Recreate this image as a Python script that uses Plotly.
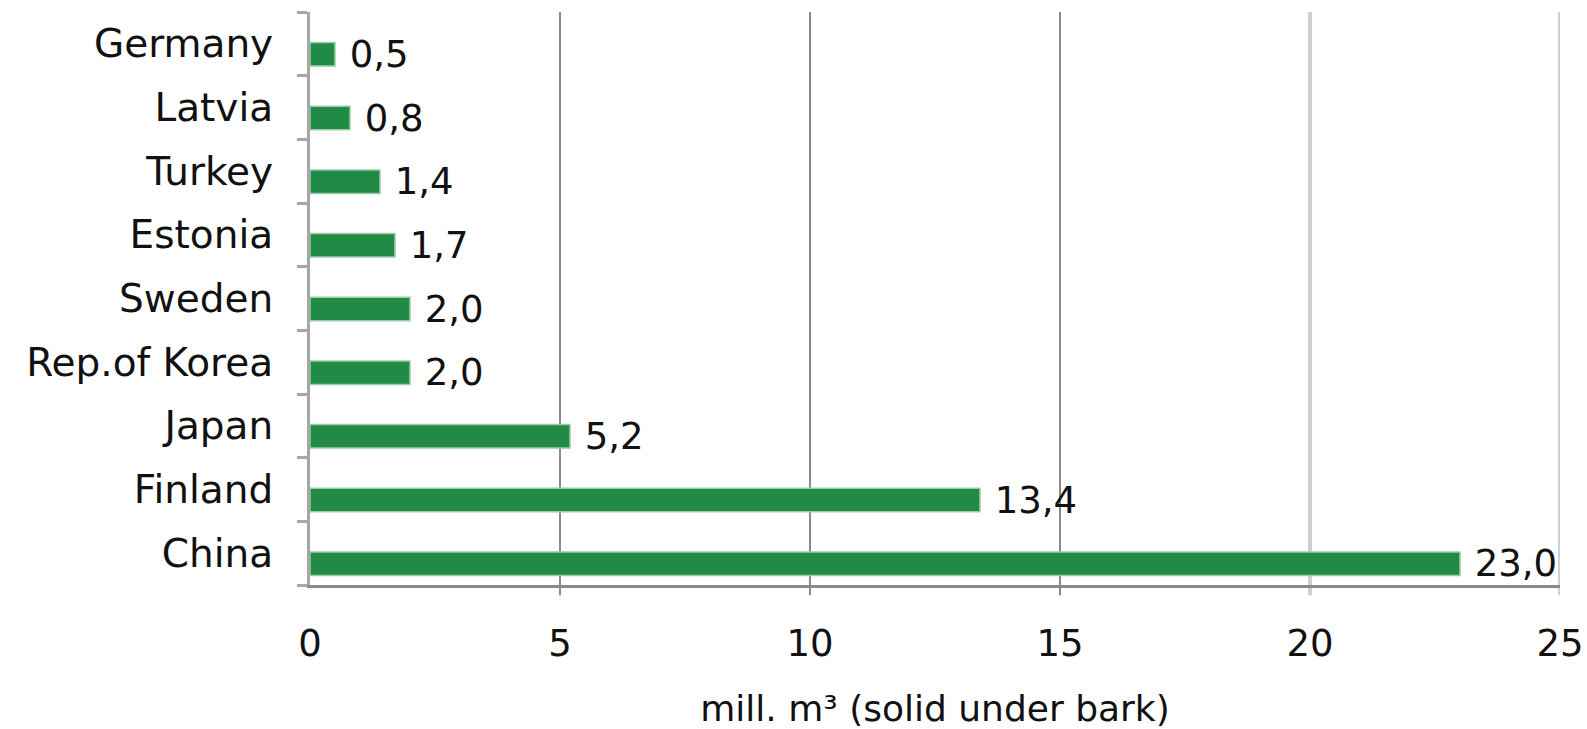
import plotly.graph_objects as go

# Wood imports by country, mill. m3 (solid under bark)
countries = ["China", "Finland", "Japan", "Rep.of Korea", "Sweden",
             "Estonia", "Turkey", "Latvia", "Germany"]
volumes = [23.0, 13.4, 5.2, 2.0, 2.0, 1.7, 1.4, 0.8, 0.5]
x_ticks = [0, 5, 10, 15, 20, 25]
grid_colors = ["#8a8a8a", "#8a8a8a", "#8a8a8a", "#cfcfcf", "#cfcfcf"]
grid_widths = [2, 2, 2, 4, 4]

FONT = "DejaVu Sans"
BAR_GREEN = "#218a45"

fig = go.Figure()
fig.add_trace(go.Bar(
    x=volumes,
    y=countries,
    orientation="h",
    width=0.37,
    offset=-0.35,
    marker=dict(color=BAR_GREEN, line=dict(color="#9cccaa", width=1.5)),
    texttemplate=" %{x:.1f}",
    textposition="outside",
    constraintext="none",
    cliponaxis=False,
    textfont=dict(family=FONT, size=37, color="#111111"),
    hoverinfo="skip",
))

# vertical gridlines, reaching down past the axis like tick marks
for v, c, w in zip(x_ticks[1:], grid_colors, grid_widths):
    fig.add_shape(type="line", xref="x", yref="paper", x0=v, x1=v, y0=-0.018, y1=1,
                  line=dict(color=c, width=w), layer="below")

fig.update_layout(
    width=1587, height=729,
    margin=dict(l=310, r=27, t=12, b=144),
    paper_bgcolor="white", plot_bgcolor="white",
    separators=", ",
    showlegend=False,
    font=dict(family=FONT, size=36, color="#111111"),
    xaxis=dict(
        range=[0, 25], tickvals=x_ticks,
        showgrid=False, zeroline=False, automargin=False,
        showline=True, linecolor="#8a8a8a", linewidth=3,
        ticks="", ticklen=10,
        ticklabelstandoff=24,
        tickfont=dict(family=FONT, size=37, color="#111111"),
        title=dict(text="mill. m³ (solid under bark)", standoff=43,
                   font=dict(family=FONT, size=36, color="#111111")),
    ),
    yaxis=dict(
        categoryorder="array", categoryarray=countries,
        range=[-0.5, len(countries) - 0.5],
        showgrid=False, zeroline=False, automargin=False,
        showline=True, linecolor="#a6a6a6", linewidth=3,
        ticks="outside", tickson="boundaries", ticklen=10,
        tickcolor="#a6a6a6", tickwidth=3,
        ticklabelstandoff=26,
        tickfont=dict(family=FONT, size=39, color="#111111"),
    ),
)

fig.write_html("out.html")
